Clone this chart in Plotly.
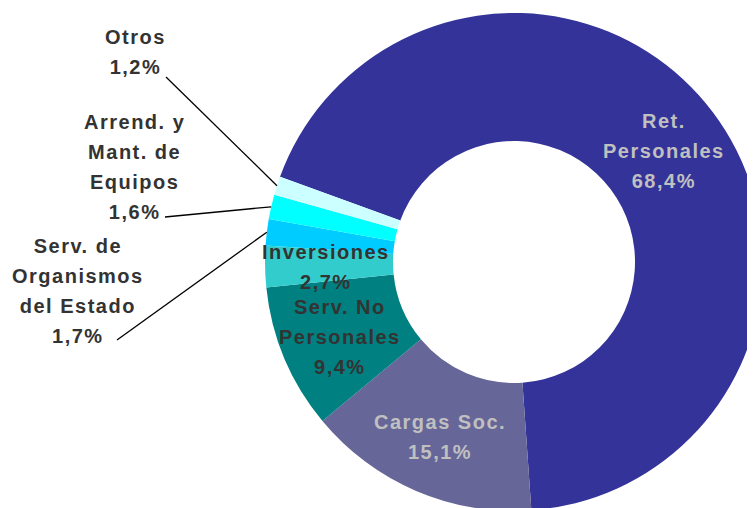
import math
import plotly.graph_objects as go

# ---------------- data ----------------
categories = [
    "Ret. Personales",
    "Cargas Soc.",
    "Serv. No Personales",
    "Inversiones",
    "Serv. de Organismos del Estado",
    "Arrend. y Mant. de Equipos",
    "Otros",
]
label_lines = [
    ["Ret.", "Personales"],
    ["Cargas Soc."],
    ["Serv. No", "Personales"],
    ["Inversiones"],
    ["Serv. de", "Organismos", "del Estado"],
    ["Arrend. y", "Mant. de", "Equipos"],
    ["Otros"],
]
values = [68.4, 15.1, 9.4, 2.7, 1.7, 1.6, 1.2]

# ---------------- styles ----------------
colors = ["#333399", "#666699", "#008080", "#33CCCC", "#00CCFF", "#00FFFF", "#CCFFFF"]
label_colors = ["#C0C0C0", "#C0C0C0", "#333333", "#333333", "#333333", "#333333", "#333333"]
outside = [4, 5, 6]                      # slices labelled outside with leader lines
outside_text_pos = {4: (70, 283), 5: (126, 159), 6: (127, 44)}      # px (text centres)
leader_start = {4: (109, 332), 5: (157, 209), 6: (158, 69)}         # px
ROTATION = -70
HOLE = 0.486
INSIDE_LABEL_R = 0.756
INSIDE_LABEL_DY = 2   # px, small downward nudge of the inside labels

W, H = 755, 508
dom_x = [0.3404, 1.0]
dom_y = [0.00984, 0.99016]

# pie geometry (as plotly computes it) to place labels from the data
R = min(W * (dom_x[1] - dom_x[0]), H * (dom_y[1] - dom_y[0])) / 2
cx = W * (dom_x[0] + dom_x[1]) / 2
cy = H * (1 - (dom_y[0] + dom_y[1]) / 2)


def to_paper(px, py):
    return px / W, 1 - py / H


def pct(v):
    return f"{v:.1f}%".replace(".", ",")


def spaced(s):
    return f'<span style="letter-spacing:1.5px;font-size:20px">{s}</span>'


fig = go.Figure(
    go.Pie(
        labels=categories,
        values=values,
        hole=HOLE,
        sort=False,
        direction="clockwise",
        rotation=ROTATION,
        marker=dict(colors=colors, line=dict(width=0)),
        textinfo="none",
        hovertemplate="%{label}: %{percent}<extra></extra>",
        showlegend=False,
        domain=dict(x=dom_x, y=dom_y),
    )
)

total = sum(values)
angle = ROTATION
annotations = []
shapes = []
for i, v in enumerate(values):
    span = 360 * v / total
    mid = math.radians(angle + span / 2)
    angle += span
    text = "<br>".join(spaced(s) for s in label_lines[i] + [pct(v)])
    if i in outside:
        tx, ty = outside_text_pos[i]
        ex, ey = cx + R * math.sin(mid), cy - R * math.cos(mid)
        sx, sy = leader_start[i]
        x0, y0 = to_paper(sx, sy)
        x1, y1 = to_paper(ex, ey)
        shapes.append(dict(type="line", xref="paper", yref="paper",
                           x0=x0, y0=y0, x1=x1, y1=y1,
                           line=dict(color="#000000", width=1.3)))
    else:
        rl = INSIDE_LABEL_R * R
        tx = cx + rl * math.sin(mid)
        ty = cy - rl * math.cos(mid) + INSIDE_LABEL_DY
    px_, py_ = to_paper(tx, ty)
    annotations.append(dict(
        x=px_, y=py_, xref="paper", yref="paper",
        text=text, showarrow=False, xanchor="center", yanchor="middle",
        align="center",
        font=dict(family="Arial, Liberation Sans, sans-serif", size=23,
                  color=label_colors[i], weight="bold"),
    ))

fig.update_layout(
    width=W, height=H,
    margin=dict(l=0, r=0, t=0, b=0),
    paper_bgcolor="#FFFFFF",
    plot_bgcolor="#FFFFFF",
    annotations=annotations,
    shapes=shapes,
)

fig.write_html("out.html")
